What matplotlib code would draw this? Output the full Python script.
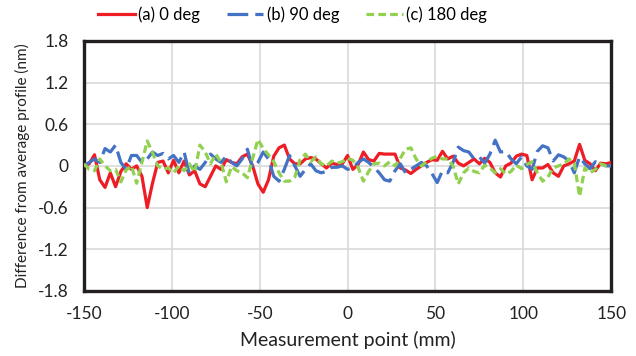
import numpy as np
import matplotlib
matplotlib.use("Agg")
import matplotlib.pyplot as plt

plt.rcParams['font.family'] = ['Lato', 'DejaVu Sans']
plt.rcParams['axes.unicode_minus'] = False

x_mm = np.arange(-150, 151, 3)

deg0 = [0.0, 0.03, 0.16, -0.2, -0.31, -0.1, -0.3, -0.08, 0.03, -0.05, 0.0, -0.15, -0.6, -0.25, 0.05, 0.07, -0.1,
        0.08, -0.1, 0.07, -0.13, -0.07, -0.26, -0.3, -0.15, 0.0, -0.05, 0.09, 0.05, 0.03, 0.13, 0.17, 0.0, -0.26,
        -0.38, -0.2, 0.14, 0.26, 0.3, 0.1, 0.03, 0.03, 0.1, 0.12, 0.1, 0.03, -0.03, 0.04, 0.02, 0.03, 0.15,
        -0.05, 0.02, 0.2, 0.09, 0.07, 0.18, 0.17, 0.17, 0.17, -0.03, -0.06, -0.11, -0.05, 0.0, 0.05, 0.09, 0.08,
        0.21, 0.1, 0.14, 0.04, 0.0, 0.05, 0.1, 0.03, 0.11, 0.05, -0.1, -0.16, 0.0, 0.04, 0.14, 0.17, 0.15,
        -0.2, -0.03, -0.03, 0.02, -0.1, -0.15, 0.0, 0.03, 0.07, 0.31, 0.08, 0.03, -0.07, 0.04, 0.03, 0.05]

deg90 = [0.0, 0.05, 0.1, 0.05, 0.25, 0.2, 0.3, 0.05, -0.05, 0.15, 0.15, 0.05, 0.1, 0.2, 0.15, 0.18, 0.1,
         0.15, 0.05, 0.2, -0.12, 0.0, -0.05, 0.05, 0.17, 0.1, 0.05, 0.14, 0.05, 0.0, 0.1, 0.24, -0.03, 0.05,
         0.2, 0.1, -0.15, -0.22, -0.05, 0.15, 0.0, -0.15, -0.05, 0.03, -0.07, -0.1, -0.08, -0.02, -0.02, 0.0, -0.05,
         -0.03, 0.05, 0.1, 0.05, -0.02, -0.1, -0.2, -0.22, -0.07, 0.03, -0.1, -0.05, 0.0, 0.05, 0.0, -0.11, -0.24,
         -0.07, -0.1, 0.05, 0.27, 0.22, 0.2, 0.1, 0.13, 0.04, 0.17, 0.37, 0.2, 0.21, 0.1, 0.03, 0.13, 0.0,
         -0.05, 0.21, 0.29, 0.26, 0.07, 0.16, 0.13, 0.07, -0.1, 0.13, 0.03, -0.04, 0.06, 0.03, 0.0, 0.0]

deg180 = [0.03, -0.05, -0.07, 0.1, 0.0, -0.07, -0.05, -0.23, -0.06, 0.0, -0.25, 0.05, 0.36, 0.19, 0.0, -0.05, -0.03,
          -0.1, 0.0, -0.07, 0.03, -0.09, 0.3, 0.2, 0.03, 0.17, 0.05, -0.23, -0.01, -0.07, -0.1, -0.17, 0.11, 0.38,
          0.25, 0.16, 0.06, -0.1, -0.22, -0.22, -0.16, 0.09, 0.17, 0.06, 0.13, 0.03, 0.0, 0.07, 0.04, 0.06, 0.11,
          0.08, -0.02, -0.22, -0.08, 0.03, 0.04, 0.0, 0.06, 0.0, 0.11, 0.24, 0.26, 0.1, 0.0, 0.06, 0.11, 0.14,
          0.1, 0.1, 0.0, -0.26, -0.1, -0.03, -0.08, -0.1, 0.01, -0.03, -0.1, -0.04, -0.12, -0.08, 0.01, -0.04, 0.02,
          0.06, -0.1, -0.22, -0.16, -0.03, 0.0, 0.03, 0.1, 0.04, -0.44, -0.03, -0.1, -0.05, 0.03, 0.0, 0.0]

series_names = ["(a) 0 deg", "(b) 90 deg", "(c) 180 deg"]
x_ticks = [-150, -100, -50, 0, 50, 100, 150]
y_ticks = [-1.8, -1.2, -0.6, 0, 0.6, 1.2, 1.8]
y_ticklabels = ["-1.8", "-1.2", "-0.6", "0", "0.6", "1.2", "1.8"]

fig = plt.figure(figsize=(6.36, 3.56), dpi=100)
ax = fig.add_axes([0.132, 0.183, 0.829, 0.702])

ax.plot(x_mm, deg0, color="#ee1c25", lw=2.3, label=series_names[0], zorder=3)
ax.plot(x_mm, deg90, color="#4472c4", lw=2.3, dashes=(6.5, 2.2), label=series_names[1], zorder=3)
ax.plot(x_mm, deg180, color="#92d050", lw=2.3, dashes=(2.4, 1.3), label=series_names[2], zorder=3)

ax.set_xlim(-150, 150)
ax.set_ylim(-1.8, 1.8)
ax.set_xticks(x_ticks)
ax.set_yticks(y_ticks)
ax.set_yticklabels(y_ticklabels)
ax.grid(True, color="#d9d9d9", lw=1.2)
ax.set_axisbelow(True)
ax.tick_params(axis='x', length=0, labelsize=12.5, colors="#222222", pad=11)
ax.tick_params(axis='y', length=0, labelsize=12.5, colors="#222222", pad=11)
for s in ax.spines.values():
    s.set_linewidth(2.4)
    s.set_color("#231f20")

ax.set_xlabel("Measurement point (mm)", fontsize=14, color="#222222", labelpad=6)
ax.set_ylabel("Difference from average profile (nm)", fontsize=11, color="#222222", labelpad=6)

fig.legend(loc="center", bbox_to_anchor=(0.46, 0.96), ncol=3, frameon=False,
           fontsize=12, handlelength=2.2, columnspacing=1.6, handletextpad=0.2, borderpad=0.1)

fig.savefig("out.png", dpi=100)
